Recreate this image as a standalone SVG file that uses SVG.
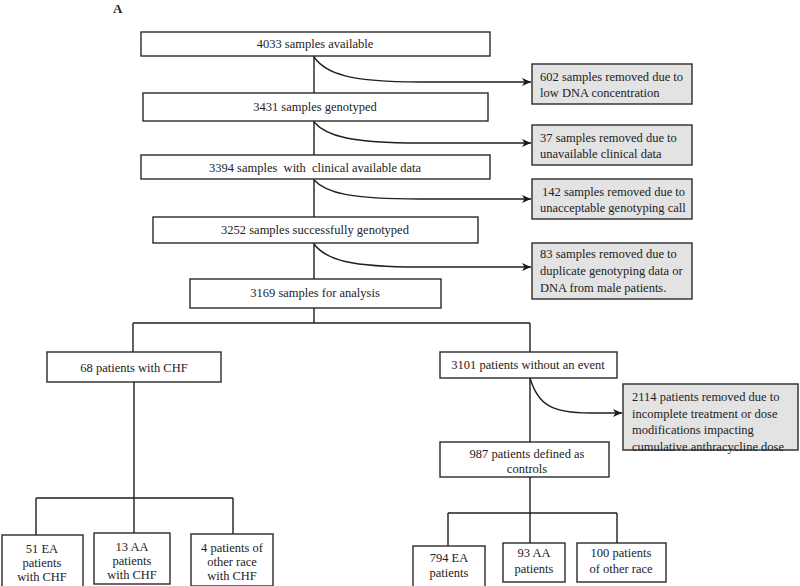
<svg xmlns="http://www.w3.org/2000/svg" width="800" height="586" viewBox="0 0 800 586">
<defs>
<marker id="arr" markerWidth="10" markerHeight="8" refX="9" refY="4" orient="auto" markerUnits="userSpaceOnUse">
<path d="M0,0 L9,4 L0,8 L2.5,4 Z" fill="#1a1a1a"/>
</marker>
<style>
.b{fill:#fff;stroke:#2a2a2a;stroke-width:1.4}
.g{fill:#e3e3e3;stroke:#2a2a2a;stroke-width:1.4}
text{font-family:"Liberation Serif","Times New Roman",serif;font-size:12.5px;fill:#222}
.c{text-anchor:middle}
.ln{fill:none;stroke:#1f1f1f;stroke-width:1.4}
</style>
</defs>
<rect width="800" height="586" fill="#fff"/>
<text x="113" y="13" style="font-weight:bold;font-size:13px">A</text>
<g id="connectors" class="ln">
<path d="M314,56 V93 M314,121 V155 M314,179 V217 M314,243 V279 M314,308 V323"/>
<path d="M133,323 H530 M133,323 V352 M530,323 V352"/>
<path d="M134,382 V498 M36,498 H233 M36,498 V535 M134,498 V533 M233,498 V534"/>
<path d="M530,378 V442 M530,477 V513 M448,513 H617 M448,513 V546 M530,513 V543 M617,513 V543"/>
<path d="M314,57 C326,74 350,82 420,82 L531,82" marker-end="url(#arr)"/>
<path d="M314,122 C326,136 350,143 420,143 L531,143" marker-end="url(#arr)"/>
<path d="M314,180 C326,193 350,199 420,199 L531,199" marker-end="url(#arr)"/>
<path d="M314,244 C326,260 350,267 420,267 L531,267" marker-end="url(#arr)"/>
<path d="M530,378 C538,405 552,413 590,413 L622,413" marker-end="url(#arr)"/>
</g>
<g id="n1"><rect class="b" x="141" y="32" width="349" height="24"/><text class="c" x="315" y="48">4033 samples available</text></g>
<g id="n2"><rect class="b" x="143" y="93" width="345" height="28"/><text class="c" x="315" y="111">3431 samples genotyped</text></g>
<g id="n3"><rect class="b" x="141" y="155" width="349" height="24"/><text class="c" x="315" y="172" xml:space="preserve">3394 samples  with  clinical available data</text></g>
<g id="n4"><rect class="b" x="153" y="217" width="325" height="26"/><text class="c" x="315" y="234">3252 samples successfully genotyped</text></g>
<g id="n5"><rect class="b" x="190" y="279" width="251" height="29"/><text class="c" x="315" y="297">3169 samples for analysis</text></g>
<g id="r1"><rect class="g" x="532" y="64" width="160" height="40"/><text x="540" y="81">602 samples removed due to</text><text x="540" y="97">low DNA concentration</text></g>
<g id="r2"><rect class="g" x="532" y="125" width="160" height="40"/><text x="540" y="142">37 samples removed due to</text><text x="540" y="158">unavailable clinical data</text></g>
<g id="r3"><rect class="g" x="532" y="179" width="160" height="40"/><text x="542" y="196">142 samples removed due to</text><text x="540" y="212">unacceptable genotyping call</text></g>
<g id="r4"><rect class="g" x="532" y="243" width="160" height="56"/><text x="540" y="258">83 samples removed due to</text><text x="540" y="275">duplicate genotyping data or</text><text x="540" y="292">DNA from male patients.</text></g>
<g id="chf"><rect class="b" x="47" y="352" width="174" height="30"/><text class="c" x="134" y="372">68 patients with CHF</text></g>
<g id="noev"><rect class="b" x="440" y="352" width="177" height="26"/><text class="c" x="528" y="369">3101 patients without an event</text></g>
<g id="r5"><rect class="g" x="623" y="384" width="175" height="66"/><text x="632" y="401">2114 patients removed due to</text><text x="632" y="418">incomplete treatment or dose</text><text x="632" y="434">modifications impacting</text><text x="632" y="451">cumulative anthracycline dose</text></g>
<g id="ctrl"><rect class="b" x="440" y="442" width="169" height="35"/><text class="c" x="527" y="458">987 patients defined as</text><text class="c" x="527" y="473">controls</text></g>
<g id="ea1"><rect class="b" x="2" y="535" width="81" height="52"/><text class="c" x="42" y="553">51 EA</text><text class="c" x="42" y="567">patients</text><text class="c" x="42" y="581">with CHF</text></g>
<g id="aa1"><rect class="b" x="94" y="533" width="76" height="51"/><text class="c" x="132" y="551">13 AA</text><text class="c" x="132" y="565">patients</text><text class="c" x="132" y="579">with CHF</text></g>
<g id="ot1"><rect class="b" x="191" y="534" width="82" height="52"/><text class="c" x="232" y="552">4 patients of</text><text class="c" x="232" y="566">other race</text><text class="c" x="232" y="580">with CHF</text></g>
<g id="ea2"><rect class="b" x="413" y="546" width="72" height="42"/><text class="c" x="449" y="562">794 EA</text><text class="c" x="449" y="577">patients</text></g>
<g id="aa2"><rect class="b" x="503" y="543" width="62" height="39"/><text class="c" x="534" y="557">93 AA</text><text class="c" x="534" y="573">patients</text></g>
<g id="ot2"><rect class="b" x="577" y="543" width="89" height="39"/><text class="c" x="621" y="557">100 patients</text><text class="c" x="621" y="573">of other race</text></g>
</svg>
